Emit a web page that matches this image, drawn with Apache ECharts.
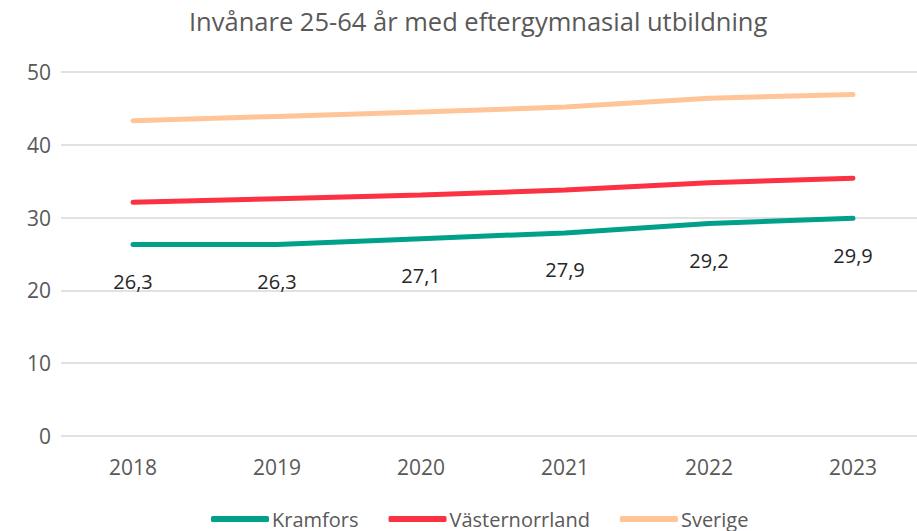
<!DOCTYPE html>
<html>
<head>
<meta charset="utf-8">
<script src="https://cdn.jsdelivr.net/npm/echarts@6/dist/echarts.min.js"></script>
<style>
  html, body { margin: 0; padding: 0; background: #fff; overflow: hidden; }
  #chart { width: 925px; height: 531px; }
</style>
</head>
<body>
<div id="chart"></div>
<script>
var years = ['2018', '2019', '2020', '2021', '2022', '2023'];
var kramfors = [26.3, 26.3, 27.1, 27.9, 29.2, 29.9];
var vasternorrland = [32.1, 32.6, 33.1, 33.8, 34.8, 35.4];
var sverige = [43.3, 43.9, 44.5, 45.2, 46.4, 46.9];

var font = 'Open Sans, Noto Sans, sans-serif';
var grey = '#595959';

// chart is a bit wider than the window so the plot runs off the right edge like the original
var chart = echarts.init(document.getElementById('chart'), null, { renderer: 'svg' });
chart.setOption({
  animation: false,
  textStyle: { fontFamily: font },
  title: {
    text: 'Invånare 25-64 år med eftergymnasial utbildning',
    left: 184, top: 3,
    textStyle: { fontFamily: font, fontSize: 25.5, fontWeight: 'normal', color: grey }
  },
  legend: {
    bottom: -3, left: 206,
    itemWidth: 58, itemHeight: 6, itemGap: 30,
    icon: 'roundRect',
    textStyle: { fontFamily: font, fontSize: 20, color: grey, padding: [0, 0, 0, -2] },
    data: ['Kramfors', 'Västernorrland', 'Sverige']
  },
  grid: { left: 61, top: 72, right: 0, height: 364 },
  xAxis: {
    type: 'category', data: years,
    axisLine: { show: false }, axisTick: { show: false },
    axisLabel: { color: grey, fontSize: 21, margin: 20 }
  },
  yAxis: {
    type: 'value', min: 0, max: 50, interval: 10,
    axisLine: { show: false }, axisTick: { show: false },
    axisLabel: { color: grey, fontSize: 21, margin: 10 },
    splitLine: { lineStyle: { color: '#d9d9d9', width: 1.5 } }
  },
  series: [
    { name: 'Kramfors', type: 'line', data: kramfors, symbol: 'circle', symbolSize: 0.1, showSymbol: true,
      itemStyle: { color: '#00a08a' }, lineStyle: { width: 5, cap: 'round' },
      label: { show: true, position: 'bottom', distance: 27, fontSize: 20, color: '#262626',
        formatter: function (p) { return String(p.value).replace('.', ','); } } },
    { name: 'Västernorrland', type: 'line', data: vasternorrland, symbol: 'none',
      itemStyle: { color: '#fa3242' }, lineStyle: { width: 5, cap: 'round' } },
    { name: 'Sverige', type: 'line', data: sverige, symbol: 'none',
      itemStyle: { color: '#ffc598' }, lineStyle: { width: 5, cap: 'round' } }
  ]
});
</script>
</body>
</html>
